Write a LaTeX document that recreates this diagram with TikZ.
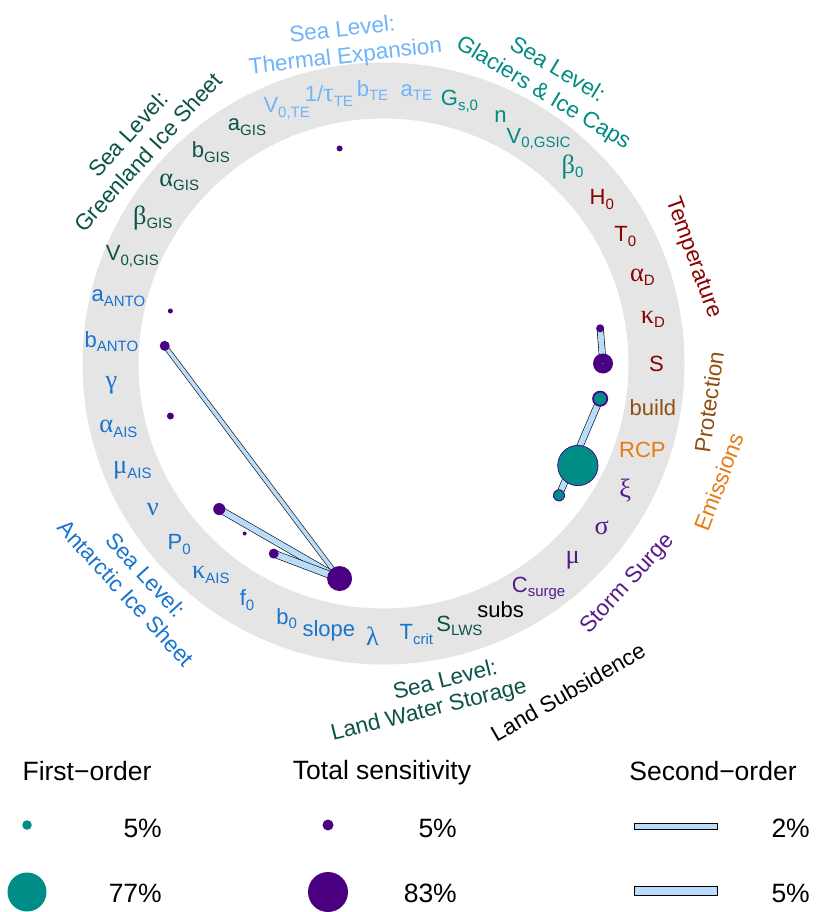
\documentclass[tikz,border=0pt]{standalone}
\usepackage{fontspec}
\setmainfont{Liberation Sans}
\newfontfamily\gr[Scale=1.2]{Liberation Serif}
\usetikzlibrary{calc}
\pgfdeclarelayer{bg}
\pgfsetlayers{bg,main}
\definecolor{tempc}{RGB}{139,0,0}
\definecolor{protc}{RGB}{145,78,18}
\definecolor{emisc}{RGB}{232,122,20}
\definecolor{stormc}{RGB}{85,26,139}
\definecolor{gisc}{RGB}{12,82,72}
\definecolor{lwsc}{RGB}{12,82,72}
\definecolor{aisc}{RGB}{24,116,205}
\definecolor{tec}{RGB}{110,180,250}
\definecolor{gsicc}{RGB}{0,140,130}
\definecolor{totc}{RGB}{75,0,130}
\definecolor{firstc}{RGB}{0,140,135}
\definecolor{bandc}{RGB}{185,220,250}
\definecolor{ringc}{RGB}{229,229,229}
\newcommand\sbs[1]{\raisebox{-0.2em}{\fontsize{15}{15}\selectfont #1}}
\begin{document}
\begin{tikzpicture}[x=1pt,y=1pt,
  lab/.style={font=\fontsize{22}{26}\selectfont, inner sep=0pt, anchor=center},
  grp/.style={font=\fontsize{22.5}{27}\selectfont, align=center, inner sep=0pt},
  tot/.style={circle, fill=totc, inner sep=0pt, minimum size=#1},
  fst/.style={circle, fill=firstc, draw=totc, line width=0.4pt, inner sep=0pt, minimum size=#1},
  lfst/.style={circle, fill=firstc, inner sep=0pt, minimum size=#1},
  band/.style={draw=black, line width=0.6pt, double=bandc, double distance=#1},
  legt/.style={font=\fontsize{26.5}{30}\selectfont, inner sep=0pt, anchor=base},
  legv/.style={font=\fontsize{26.5}{30}\selectfont, inner sep=0pt, anchor=base east},
  lband/.style={draw=black, line width=0.6pt, fill=bandc, minimum width=83pt, minimum height=#1, inner sep=0pt}
]
\path[use as bounding box] (0,0) rectangle (815,-912);
\coordinate (C) at (383.5,-363.5);
\begin{pgfonlayer}{bg}
\fill[ringc, even odd rule] (C) circle (301pt) (C) circle (245pt);
\end{pgfonlayer}

% ring labels
\foreach \i/\t/\c in {
 0/{S}/tempc,
 1/{{\gr κ}\sbs{D}}/tempc,
 2/{{\gr α}\sbs{D}}/tempc,
 3/{T\sbs{0}}/tempc,
 4/{H\sbs{0}}/tempc,
 5/{{\gr β}\sbs{0}}/gsicc,
 6/{V\sbs{0,GSIC}}/gsicc,
 7/{n}/gsicc,
 8/{G\sbs{s,0}}/gsicc,
 9/{a\sbs{TE}}/tec,
 10/{b\sbs{TE}}/tec,
 11/{1/{\gr τ}\sbs{TE}}/tec,
 12/{V\sbs{0,TE}}/tec,
 13/{a\sbs{GIS}}/gisc,
 14/{b\sbs{GIS}}/gisc,
 15/{{\gr α}\sbs{GIS}}/gisc,
 16/{{\gr β}\sbs{GIS}}/gisc,
 17/{V\sbs{0,GIS}}/gisc,
 18/{a\sbs{ANTO}}/aisc,
 19/{b\sbs{ANTO}}/aisc,
 20/{{\gr γ}}/aisc,
 21/{{\gr α}\sbs{AIS}}/aisc,
 22/{{\gr μ}\sbs{AIS}}/aisc,
 23/{{\gr ν}}/aisc,
 24/{P\sbs{0}}/aisc,
 25/{{\gr κ}\sbs{AIS}}/aisc,
 26/{f\sbs{0}}/aisc,
 27/{b\sbs{0}}/aisc,
 28/{slope}/aisc,
 29/{{\gr λ}}/aisc,
 30/{T\sbs{crit}}/aisc,
 31/{S\sbs{LWS}}/lwsc,
 32/{subs}/black,
 33/{C\sbs{surge}}/stormc,
 34/{{\gr μ}}/stormc,
 35/{{\gr σ}}/stormc,
 36/{{\gr ξ}}/stormc,
 37/{RCP}/emisc,
 38/{build}/protc}{
 \node[lab, text=\c] (L\i) at ($(C)+({\i*360/39}:273pt)$) {\t};
}

% group labels
\node[grp, text=tec, rotate=6.5] (gTE) at (344,-44) {Sea Level:\\Thermal Expansion};
\node[grp, text=gsicc, rotate=-31] (gGSIC) at (550,-82) {Sea Level:\\Glaciers \& Ice Caps};
\node[grp, text=gisc, rotate=47.5] (gGIS) at (138,-143) {Sea Level:\\Greenland Ice Sheet};
\node[grp, text=tempc, rotate=-70] (gTemp) at (693,-258) {Temperature};
\node[grp, text=protc, rotate=82] (gProt) at (709,-402) {Protection};
\node[grp, text=emisc, rotate=69] (gEmis) at (719,-482) {Emissions};
\node[grp, text=stormc, rotate=47.5] (gStorm) at (628,-584) {Storm Surge};
\node[grp, text=black, rotate=30] (gSubs) at (568,-692) {Land Subsidence};
\node[grp, text=lwsc, rotate=14] (gLWSa) at (445,-679) {Sea Level:};
\node[grp, text=lwsc, rotate=14] (gLWSb) at (429,-711) {Land Water Storage};
\node[grp, text=aisc, rotate=-47.5] (gAIS) at (136,-584) {Sea Level:\\Antarctic Ice Sheet};

% total-order dots
\foreach \i/\d in {11/6pt, 18/5pt, 19/10pt, 21/7pt, 24/12pt, 25/4pt, 26/10pt, 28/25pt, 1/8pt, 0/20pt, 38/16pt, 36/41pt, 35/12pt}{
 \node[tot=\d] (T\i) at ($(C)+({\i*360/39}:219.5pt)$) {};
}
% first-order dots
\node[fst=13pt] (F38) at (T38) {};
\node[fst=40pt] (F36) at (T36) {};
\node[fst=11pt] (F35) at (T35) {};
\node[lfst=1.6pt] (F0) at (T0) {};

% second-order bands
\begin{pgfonlayer}{bg}
\draw[band=3.8pt] (T28.center) -- (T19.center);
\draw[band=5.8pt] (T28.center) -- (T24.center);
\draw[band=6.4pt] (T28.center) -- (T26.center);
\draw[band=5.8pt] (T1.center) -- (T0.center);
\draw[band=5.8pt] (T38.center) -- (T35.center);
\end{pgfonlayer}

% legend
\node[legt] (lt1) at (87,-780) {First−order};
\node[legt] (lt2) at (382,-779) {Total sensitivity};
\node[legt] (lt3) at (713,-780) {Second−order};
\node[lfst=9.5pt] (lf1) at (27,-825) {};
\node[lfst=39pt] (lf2) at (27,-892) {};
\node[tot=11pt] (lp1) at (328,-825) {};
\node[tot=40pt] (lp2) at (328,-892) {};
\node[lband=6pt] (lb1) at (675.5,-826) {};
\node[lband=9pt] (lb2) at (675.5,-891) {};
\node[legv] (lv1) at (162,-837) {5\%};
\node[legv] (lv2) at (162,-902) {77\%};
\node[legv] (lv3) at (457,-837) {5\%};
\node[legv] (lv4) at (457,-902) {83\%};
\node[legv] (lv5) at (810,-837) {2\%};
\node[legv] (lv6) at (810,-902) {5\%};
\end{tikzpicture}
\end{document}
